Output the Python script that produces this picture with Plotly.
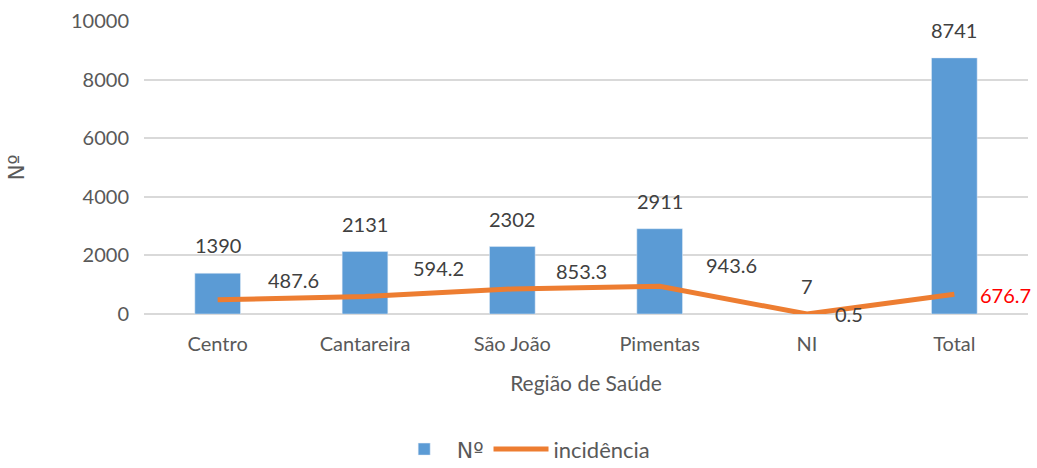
import plotly.graph_objects as go

categories = ["Centro", "Cantareira", "São João", "Pimentas", "NI", "Total"]
counts = [1390, 2131, 2302, 2911, 7, 8741]
incidence = [487.6, 594.2, 853.3, 943.6, 0.5, 676.7]
y_ticks = [0, 2000, 4000, 6000, 8000, 10000]

FONT = "Lato"
NFONT = "DejaVu Sans"
BLUE = "#5B9BD5"
ORANGE = "#ED7D31"
TXT = "#404040"
TICK = "#595959"

# styling offsets for incidence labels (pixels)
inc_label_dx = [48, 46, 42, 44, 26, 24]
inc_label_dy = [20, 29, 18, 21, 0, -1]
inc_label_color = [TXT, TXT, TXT, TXT, TXT, "#FF0000"]

n_label = f'<span style="font-family:{NFONT}">Nº</span>'

fig = go.Figure()
fig.add_trace(go.Bar(x=categories, y=counts, name=n_label, marker_color=BLUE,
                     width=0.31))
fig.add_trace(go.Scatter(x=categories, y=incidence, name="incidência", mode="lines",
                         line=dict(color=ORANGE, width=5)))

annotations = []
for c, v in zip(categories, counts):
    annotations.append(dict(x=c, y=v, text=str(v), showarrow=False, yanchor="middle",
                            xanchor="center", yshift=28,
                            font=dict(family=FONT, size=20, color=TXT)))
for c, v, dx, dy, col in zip(categories, incidence, inc_label_dx, inc_label_dy, inc_label_color):
    annotations.append(dict(x=c, y=v, text=f"{v:.1f}", showarrow=False, yanchor="middle",
                            xanchor="left", xshift=dx, yshift=dy,
                            font=dict(family=FONT, size=20, color=col)))

fig.update_layout(
    width=1037, height=468,
    margin=dict(l=144, r=9, t=21, b=154, autoexpand=False),
    plot_bgcolor="white", paper_bgcolor="white",
    font=dict(family=FONT, size=20, color=TICK),
    showlegend=True,
    legend=dict(orientation="h", x=0.505, xanchor="center", xref="container",
                y=0.04, yanchor="middle", yref="container", itemwidth=55,
                font=dict(family=FONT, size=22, color=TICK)),
    annotations=annotations,
    bargap=0.69,
)
fig.update_xaxes(title=dict(text="Região de Saúde", font=dict(family=FONT, size=21, color=TICK),
                            standoff=22),
                 tickfont=dict(family=FONT, size=20, color=TICK), showline=False,
                 ticks="", range=[-0.5, 5.5], ticklabelstandoff=16)
fig.update_yaxes(title=dict(text=n_label, font=dict(family=FONT, size=21, color=TICK), standoff=40),
                 range=[0, 10000], tickvals=y_ticks, ticktext=[str(t) for t in y_ticks],
                 showgrid=True, gridcolor="#D9D9D9",
                 gridwidth=1.5, zeroline=True, zerolinecolor="#D9D9D9", zerolinewidth=1.5,
                 tickfont=dict(family=FONT, size=20, color=TICK), ticklen=0, ticks="",
                 ticklabelstandoff=14)

fig.write_html("out.html", config={"displayModeBar": False},
               post_script="document.body.style.margin='0';document.body.style.overflow='hidden';")
